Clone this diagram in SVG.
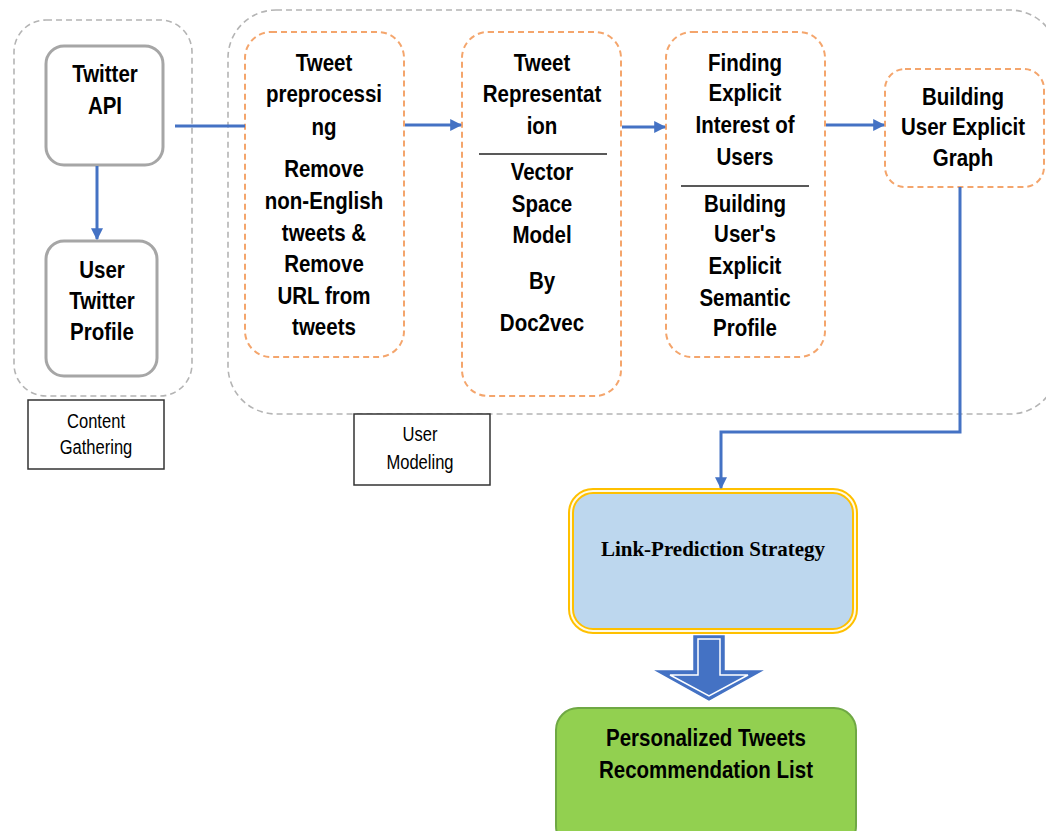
<svg xmlns="http://www.w3.org/2000/svg" width="1046" height="831" viewBox="0 0 1046 831">
<style>
.t{font-family:"Liberation Sans",Arial,sans-serif;font-weight:bold;font-size:20.5px;fill:#000;text-anchor:middle;transform-box:fill-box;transform-origin:center;transform:scaleY(1.14)}
.lbl{font-family:"Liberation Sans",Arial,sans-serif;font-size:18px;fill:#000;text-anchor:middle;transform-box:fill-box;transform-origin:center;transform:scale(0.92,1.12)}
.cont{fill:none;stroke:#b4b4b4;stroke-width:1.6;stroke-dasharray:6 4}
.gray{fill:#fff;stroke:#a6a6a6;stroke-width:3}
.orng{fill:#fff;stroke:#f4a56c;stroke-width:2;stroke-dasharray:6 4}
.box{fill:#fff;stroke:#333;stroke-width:1.5}
.con{fill:none;stroke:#4472c4;stroke-width:3}
.sep{stroke:#222;stroke-width:1.5}
</style>
<defs>
<marker id="ah" viewBox="0 0 10 10" refX="9" refY="5" markerWidth="4" markerHeight="4" orient="auto" markerUnits="strokeWidth">
<path d="M0,0 L10,5 L0,10 z" fill="#4472c4"/>
</marker>
</defs>
<rect width="1046" height="831" fill="#fff"/>
<g id="content-gathering">
<rect class="cont" x="14" y="20" width="178" height="376" rx="32"/>
<rect class="box" x="28" y="400" width="136" height="69"/>
<text class="lbl" x="96" y="427">Content</text>
<text class="lbl" x="96" y="453">Gathering</text>
</g>
<g id="user-modeling">
<rect class="cont" x="228" y="10" width="830" height="404" rx="48"/>
<rect class="box" x="354" y="414" width="136" height="71"/>
<text class="lbl" x="420" y="440">User</text>
<text class="lbl" x="420" y="468">Modeling</text>
</g>
<g id="twitter-api">
<rect class="gray" x="46" y="46" width="117" height="119" rx="18"/>
<text class="t" x="105" y="81">Twitter</text>
<text class="t" x="105" y="113">API</text>
</g>
<g id="user-twitter-profile">
<rect class="gray" x="46" y="241" width="111" height="135" rx="18"/>
<text class="t" x="102" y="277">User</text>
<text class="t" x="102" y="308">Twitter</text>
<text class="t" x="102" y="339">Profile</text>
</g>
<g id="tweet-preprocessing">
<rect class="orng" x="245" y="32" width="159" height="325" rx="26"/>
<text class="t" x="324" y="70">Tweet</text>
<text class="t" x="324" y="101">preprocessi</text>
<text class="t" x="324" y="134">ng</text>
<text class="t" x="324" y="176">Remove</text>
<text class="t" x="324" y="208">non-English</text>
<text class="t" x="324" y="240">tweets &amp;</text>
<text class="t" x="324" y="271">Remove</text>
<text class="t" x="324" y="303">URL from</text>
<text class="t" x="324" y="334">tweets</text>
</g>
<g id="tweet-representation">
<rect class="orng" x="462" y="32" width="159" height="364" rx="26"/>
<text class="t" x="542" y="70">Tweet</text>
<text class="t" x="542" y="101">Representat</text>
<text class="t" x="542" y="133">ion</text>
<line class="sep" x1="479" y1="154" x2="607" y2="154"/>
<text class="t" x="542" y="179">Vector</text>
<text class="t" x="542" y="211">Space</text>
<text class="t" x="542" y="242">Model</text>
<text class="t" x="542" y="288">By</text>
<text class="t" x="542" y="330">Doc2vec</text>
</g>
<g id="finding-explicit-interest">
<rect class="orng" x="666" y="32" width="159" height="325" rx="26"/>
<text class="t" x="745" y="70">Finding</text>
<text class="t" x="745" y="100">Explicit</text>
<text class="t" x="745" y="132">Interest of</text>
<text class="t" x="745" y="164">Users</text>
<line class="sep" x1="681" y1="186" x2="809" y2="186"/>
<text class="t" x="745" y="211">Building</text>
<text class="t" x="745" y="241">User's</text>
<text class="t" x="745" y="273">Explicit</text>
<text class="t" x="745" y="305">Semantic</text>
<text class="t" x="745" y="335">Profile</text>
</g>
<g id="building-user-explicit-graph">
<rect class="orng" x="885" y="69" width="159" height="118" rx="20"/>
<text class="t" x="963" y="104">Building</text>
<text class="t" x="963" y="134">User Explicit</text>
<text class="t" x="963" y="165">Graph</text>
</g>
<g id="link-prediction-strategy">
<rect x="569" y="489" width="288" height="144" rx="24" fill="#fffbe6" stroke="#ffc000" stroke-width="2"/>
<rect x="573" y="493" width="280" height="136" rx="20" fill="#bdd7ee" stroke="#ffc000" stroke-width="2"/>
<text x="713" y="556" font-family="'Liberation Serif','Times New Roman',serif" font-weight="bold" font-size="21px" text-anchor="middle" fill="#000">Link-Prediction Strategy</text>
</g>
<g id="personalized-list">
<rect x="556" y="708" width="300" height="140" rx="22" fill="#92d050" stroke="#6fa844" stroke-width="2"/>
<text class="t" x="706" y="745" font-size="21px">Personalized Tweets</text>
<text class="t" x="706" y="777" font-size="21px">Recommendation List</text>
</g>
<g id="connectors">
<line class="con" x1="97" y1="166" x2="97" y2="239" marker-end="url(#ah)"/>
<line class="con" x1="175" y1="126" x2="245" y2="126"/>
<line class="con" x1="405" y1="125" x2="461" y2="125" marker-end="url(#ah)"/>
<line class="con" x1="622" y1="127" x2="665" y2="127" marker-end="url(#ah)"/>
<line class="con" x1="826" y1="125" x2="884" y2="125" marker-end="url(#ah)"/>
<polyline class="con" points="960,187 960,432 721,432 721,488" marker-end="url(#ah)"/>
<polygon points="694,636 724,636 724,671 761,671 709,700 657,671 694,671" fill="#4472c4" stroke="#4472c4" stroke-width="1.5"/>
<polygon points="698,639 720,639 720,675 748,675 709,696 670,675 698,675" fill="none" stroke="#ffffff" stroke-width="1.5"/>
</g>
</svg>
